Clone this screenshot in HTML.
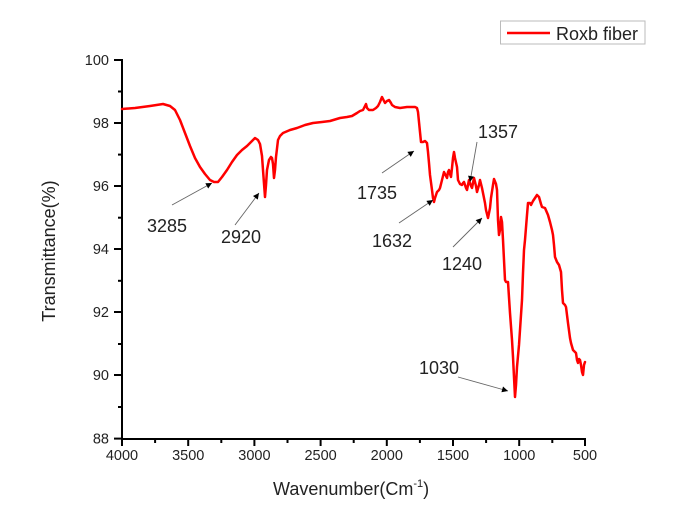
<!DOCTYPE html>
<html><head><meta charset="utf-8"><style>
html,body{margin:0;padding:0;background:#fff;}
svg{display:block;font-family:"Liberation Sans",Arial,sans-serif;}
</style></head><body>
<svg width="680" height="525" viewBox="0 0 680 525" xmlns="http://www.w3.org/2000/svg">
<defs>
<marker id="ah" viewBox="0 0 10 10" refX="10" refY="5" markerWidth="9" markerHeight="6" orient="auto" markerUnits="userSpaceOnUse">
<path d="M0,0 L10,5 L0,10 z" fill="#000"/>
</marker>
</defs>
<rect width="680" height="525" fill="#fff"/>
<!-- axes -->
<g stroke="#000" stroke-width="2" fill="none">
<line x1="122" y1="59" x2="122" y2="440"/>
<line x1="121" y1="439" x2="586" y2="439"/>
<!-- y major -->
<line x1="114" y1="60" x2="122" y2="60"/>
<line x1="114" y1="123" x2="122" y2="123"/>
<line x1="114" y1="186" x2="122" y2="186"/>
<line x1="114" y1="249" x2="122" y2="249"/>
<line x1="114" y1="312" x2="122" y2="312"/>
<line x1="114" y1="375" x2="122" y2="375"/>
<line x1="114" y1="438.6" x2="122" y2="438.6"/>
<!-- y minor -->
<line x1="118" y1="91.5" x2="122" y2="91.5"/>
<line x1="118" y1="154.6" x2="122" y2="154.6"/>
<line x1="118" y1="217.7" x2="122" y2="217.7"/>
<line x1="118" y1="280.8" x2="122" y2="280.8"/>
<line x1="118" y1="344" x2="122" y2="344"/>
<line x1="118" y1="407" x2="122" y2="407"/>
<!-- x major -->
<line x1="122" y1="439" x2="122" y2="446"/>
<line x1="188.2" y1="439" x2="188.2" y2="446"/>
<line x1="254.4" y1="439" x2="254.4" y2="446"/>
<line x1="320.6" y1="439" x2="320.6" y2="446"/>
<line x1="386.8" y1="439" x2="386.8" y2="446"/>
<line x1="453" y1="439" x2="453" y2="446"/>
<line x1="519.2" y1="439" x2="519.2" y2="446"/>
<line x1="585" y1="439" x2="585" y2="446"/>
<!-- x minor -->
<line x1="155.1" y1="439" x2="155.1" y2="443"/>
<line x1="221.3" y1="439" x2="221.3" y2="443"/>
<line x1="287.5" y1="439" x2="287.5" y2="443"/>
<line x1="353.7" y1="439" x2="353.7" y2="443"/>
<line x1="419.9" y1="439" x2="419.9" y2="443"/>
<line x1="486.1" y1="439" x2="486.1" y2="443"/>
<line x1="552.3" y1="439" x2="552.3" y2="443"/>
</g>
<!-- y tick labels -->
<g font-size="14.5" fill="#222" text-anchor="end">
<text x="109" y="65">100</text>
<text x="109" y="128">98</text>
<text x="109" y="191">96</text>
<text x="109" y="254">94</text>
<text x="109" y="317">92</text>
<text x="109" y="380">90</text>
<text x="109" y="443.5">88</text>
</g>
<!-- x tick labels -->
<g font-size="14.5" fill="#222" text-anchor="middle">
<text x="122" y="460">4000</text>
<text x="188.2" y="460">3500</text>
<text x="254.4" y="460">3000</text>
<text x="320.6" y="460">2500</text>
<text x="386.8" y="460">2000</text>
<text x="453" y="460">1500</text>
<text x="519.2" y="460">1000</text>
<text x="585" y="460">500</text>
</g>
<!-- axis titles -->
<text x="273" y="495" font-size="18" fill="#222">Wavenumber(Cm<tspan font-size="11" dy="-8">-1</tspan><tspan dy="8">)</tspan></text>
<text transform="translate(55,251) rotate(-90)" font-size="18" fill="#222" text-anchor="middle">Transmittance(%)</text>
<!-- spectrum -->
<polyline fill="none" stroke="#ff0000" stroke-width="2.5" stroke-linejoin="round" stroke-linecap="round" points="122,109 135,108 150,106 163,104 170,106 175,110 180,120 185,133 190,146 195,158 200,167 205,174 210,180 214,182 218,182 222,177 227,170 232,162 237,155 242,150 247,146 251,142 255,138 258,140 260,144 262,156 263,170 265,197 266,185 267,170 269,160 271,157 272,158 273,164 274,178 275,170 276,157 278,140 280,136 283,133 290,130 297,128 305,125 313,123 322,122 330,121 340,118 347,117 352,116 357,113 360,111 363,110 365,106 366,104 367,108 369,110 373,110 376,108 378,106 380,102 382,97 384,101 385,103 387,101 389,100 391,103 392,105 395,107 400,108 407,107 412,107 415,107 417,108 418,112 419,122 420,132 421,142 423,142 425,141 427,143 428,152 429,163 430,175 432,190 433,198 434,202 435,198 437,192 439,190 440,188 442,180 443,176 444,172 446,176 447,178 448,172 449,170 450,174 451,177 452,168 453,158 454,152 455,158 457,167 458,180 460,184 462,185 463,183 464,182 466,188 467,190 468,185 469,180 471,186 472,188 473,183 474,178 476,186 477,192 479,185 480,180 482,188 483,193 485,203 486,210 488,218 490,208 491,198 493,185 494,179 496,184 497,190 498,220 499,235 500,230 501,217 502,222 503,240 504,260 505,280 506,282 508,282 510,313 512,340 513,357 515,397 516,385 517,367 519,345 520,330 522,300 523,273 524,250 525,240 527,215 528,203 530,203 531,205 533,201 535,198 537,195 539,197 541,204 542,207 545,208 548,215 550,222 552,230 553,235 554,245 555,257 557,262 559,265 561,272 562,290 563,303 565,305 566,307 568,323 570,338 571,343 573,350 575,352 576,353 577,360 578,363 579,359 580,360 581,365 582,372 583,375 584,365 585,362"/>
<!-- annotation arrows -->
<g stroke="#666" stroke-width="0.9" fill="none" marker-end="url(#ah)">
<line x1="172" y1="205" x2="212" y2="183"/>
<line x1="235" y1="225" x2="259" y2="193"/>
<line x1="382" y1="173" x2="414" y2="151"/>
<line x1="399" y1="223" x2="433" y2="200"/>
<line x1="477" y1="142" x2="470" y2="182"/>
<line x1="453" y1="247" x2="482" y2="218"/>
<line x1="458" y1="377" x2="508" y2="391"/>
</g>
<!-- annotation labels -->
<g font-size="18" fill="#222">
<text x="147" y="232">3285</text>
<text x="221" y="243">2920</text>
<text x="357" y="199">1735</text>
<text x="372" y="247">1632</text>
<text x="478" y="138">1357</text>
<text x="442" y="270">1240</text>
<text x="419" y="374">1030</text>
</g>
<!-- legend -->
<rect x="500.5" y="21" width="144.5" height="23" fill="#fff" stroke="#bbb" stroke-width="1"/>
<line x1="507" y1="33" x2="550" y2="33" stroke="#ff0000" stroke-width="2.5"/>
<text x="556" y="40" font-size="18" fill="#222">Roxb fiber</text>
</svg>
</body></html>
